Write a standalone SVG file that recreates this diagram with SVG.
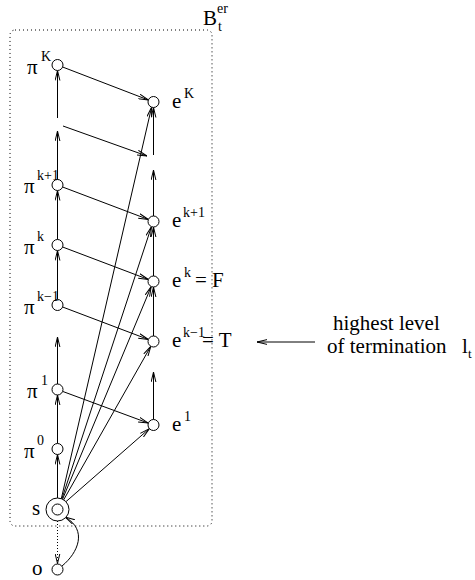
<svg xmlns="http://www.w3.org/2000/svg" width="475" height="580" viewBox="0 0 475 580">
<style>
text{font-family:"Liberation Serif","Times New Roman",serif;fill:#000;font-size:21px}
.n{fill:#fff;stroke:#000;stroke-width:1}
.c{stroke:#000;stroke-width:1;fill:none;marker-end:url(#a)}
text.s{font-size:14px}
</style>
<defs>
<marker id="a" viewBox="0 0 10 6" refX="10" refY="3" markerWidth="10" markerHeight="6" orient="auto" markerUnits="userSpaceOnUse">
<path d="M0,0.6 L10,3 L0,5.4" fill="none" stroke="#000" stroke-width="1"/>
</marker>
</defs>
<rect x="10" y="30" width="202" height="496" rx="5" fill="none" stroke="#000" stroke-width="1" stroke-dasharray="1,3"/>
<g id="box-label"><text x="203" y="25">B</text><text x="217" y="13" class="s">er</text><text x="218" y="31" class="s">t</text></g>
<g id="connectors">
<line class="c" x1="57.5" y1="498" x2="57.5" y2="454.5"/>
<line class="c" x1="57.5" y1="443.5" x2="57.5" y2="395"/>
<line class="c" x1="57.5" y1="384" x2="57.5" y2="337"/>
<line class="c" x1="57.5" y1="299.5" x2="57.5" y2="250.5"/>
<line class="c" x1="57.5" y1="239.5" x2="57.5" y2="190.5"/>
<line class="c" x1="57.5" y1="179.5" x2="57.5" y2="131"/>
<line class="c" x1="57.5" y1="118" x2="57.5" y2="70.5"/>
<line class="c" x1="153.5" y1="419.5" x2="153.5" y2="372"/>
<line class="c" x1="153.5" y1="336" x2="153.5" y2="287"/>
<line class="c" x1="153.5" y1="276" x2="153.5" y2="227"/>
<line class="c" x1="153.5" y1="216" x2="153.5" y2="170"/>
<line class="c" x1="153.5" y1="155" x2="153.5" y2="107.5"/>
<line class="c" x1="62.6" y1="67" x2="148.4" y2="100"/>
<line class="c" x1="63" y1="126" x2="147" y2="156"/>
<line class="c" x1="62.6" y1="187" x2="148.4" y2="219.5"/>
<line class="c" x1="62.6" y1="247" x2="148.4" y2="279.5"/>
<line class="c" x1="62.6" y1="307" x2="148.4" y2="339.5"/>
<line class="c" x1="62.6" y1="391.4" x2="148.3" y2="423.1"/>
<line class="c" x1="61" y1="500" x2="151.6" y2="107.2"/>
<line class="c" x1="61.5" y1="500" x2="151.4" y2="226.8"/>
<line class="c" x1="62" y1="500.5" x2="151.2" y2="286.6"/>
<line class="c" x1="63" y1="501" x2="150.8" y2="346.3"/>
<line class="c" x1="65" y1="502.5" x2="149.4" y2="428.6"/>
<line class="c" x1="57.5" y1="521" x2="57.5" y2="563.5" stroke-dasharray="1,2"/>
<path class="c" d="M62,566 C78,553 88,530 65,517"/>
<line class="c" x1="315" y1="342" x2="257" y2="342"/>
</g>
<g id="piK"><circle class="n" cx="57.5" cy="65" r="5.5"/><text x="27" y="74">π</text><text class="s" x="41" y="61">K</text></g>
<g id="pik1"><circle class="n" cx="57.5" cy="185" r="5.5"/><text x="24" y="193">π</text><text class="s" x="37" y="180">k+1</text></g>
<g id="pik"><circle class="n" cx="57.5" cy="245" r="5.5"/><text x="24" y="254">π</text><text class="s" x="37" y="241">k</text></g>
<g id="pikm1"><circle class="n" cx="57.5" cy="305" r="5.5"/><text x="24" y="314">π</text><text class="s" x="37" y="301">k−1</text></g>
<g id="pi1"><circle class="n" cx="57.5" cy="389.5" r="5.5"/><text x="27" y="398">π</text><text class="s" x="41" y="385">1</text></g>
<g id="pi0"><circle class="n" cx="57.5" cy="449" r="5.5"/><text x="24" y="458">π</text><text class="s" x="37" y="445">0</text></g>
<g id="s"><circle class="n" cx="57.5" cy="509.5" r="11.5"/><circle class="n" cx="57.5" cy="509.5" r="5.5"/><text x="32" y="515">s</text></g>
<g id="o"><circle class="n" cx="57.5" cy="569.5" r="5.5"/><text x="32" y="575">o</text></g>
<g id="eK"><circle class="n" cx="153.5" cy="102" r="5.5"/><text x="172" y="108">e</text><text class="s" x="184" y="98">K</text></g>
<g id="ek1"><circle class="n" cx="153.5" cy="221.5" r="5.5"/><text x="172" y="227">e</text><text class="s" x="183" y="217">k+1</text></g>
<g id="ek"><circle class="n" cx="153.5" cy="281.5" r="5.5"/><text x="172" y="287">e</text><text class="s" x="184" y="277">k</text><text x="195" y="287">= F</text></g>
<g id="ekm1"><circle class="n" cx="153.5" cy="341.5" r="5.5"/><text x="172" y="347">e</text><text class="s" x="183" y="337">k−1</text><text x="202" y="347">= T</text></g>
<g id="e1"><circle class="n" cx="153.5" cy="425" r="5.5"/><text x="172" y="431">e</text><text class="s" x="184" y="421">1</text></g>
<g id="note"><text x="333" y="330">highest level</text><text x="327" y="353">of termination</text><text x="462" y="353">l</text><text x="468" y="358" style="font-size:13px">t</text></g>
</svg>
